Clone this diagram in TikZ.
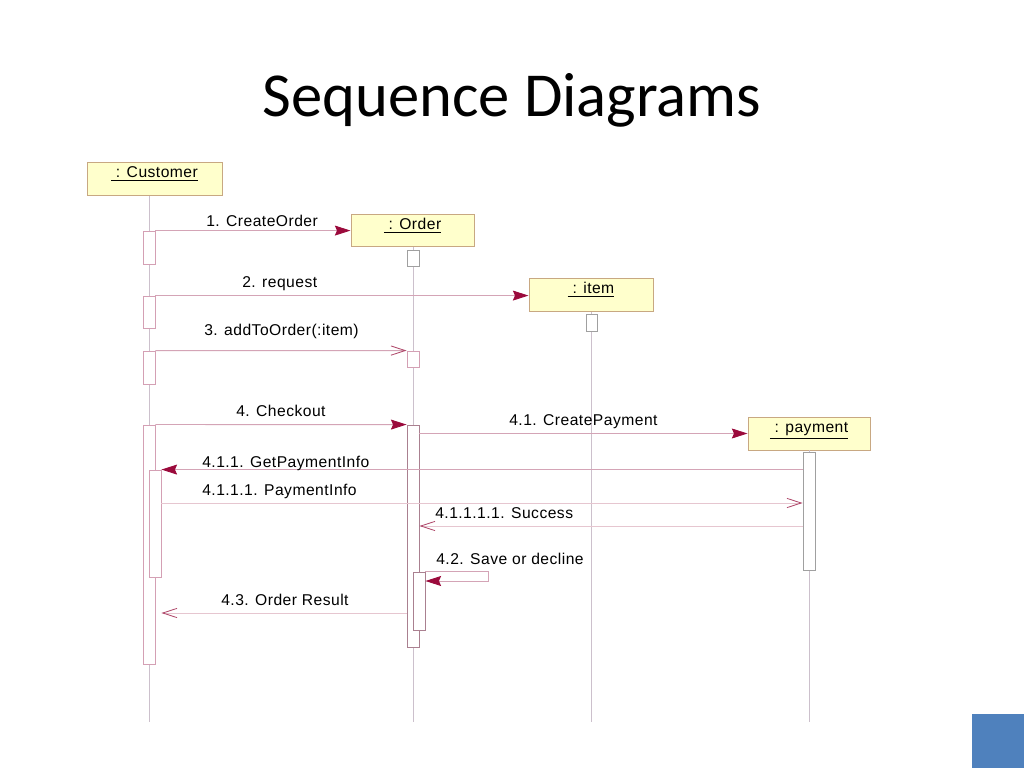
\documentclass[tikz,border=0pt]{standalone}
\usepackage{fontspec}
\setmainfont{Liberation Sans}
\newfontfamily\titlefont{Carlito}
\newfontfamily\lblfont[LetterSpace=3]{Liberation Sans}
\usetikzlibrary{arrows.meta}
\definecolor{objfill}{HTML}{FFFFCC}
\definecolor{objdraw}{HTML}{C8A882}
\definecolor{msgline}{HTML}{D4A4B6}
\definecolor{retline}{HTML}{E6C6D0}
\definecolor{tipfill}{HTML}{9B0A3C}
\definecolor{tipopen}{HTML}{B04A6C}
\definecolor{lifeline}{HTML}{CCC0CC}
\definecolor{actpink}{HTML}{D4A0B4}
\definecolor{actgrey}{HTML}{A0A0A0}
\definecolor{slideblue}{HTML}{4F81BD}
\begin{document}
\begin{tikzpicture}[x=0.703125pt,y=-0.703125pt,
  obj/.style={draw=objdraw, fill=objfill, line width=0.7pt, inner xsep=0pt, inner ysep=0pt,
    font=\lblfont\fontsize{11}{13}\selectfont, text height=11pt},
  act/.style={draw=actpink, fill=white, line width=0.6pt, inner sep=0pt, minimum width=8.44pt},
  actg/.style={act, draw=actgrey},
  life/.style={draw=lifeline, line width=0.6pt},
  msg/.style={draw=msgline, line width=0.6pt, -{Stealth[length=11pt,width=7pt,inset=1.5pt,color=tipfill,fill=tipfill]}},
  ret/.style={draw=retline, line width=0.6pt, -{Straight Barb[length=10pt,width=6.5pt,color=tipopen,line width=0.6pt]}},
  ret2/.style={draw=msgline, line width=0.6pt, -{Straight Barb[length=10pt,width=6.5pt,color=tipopen,line width=0.6pt]}},
  lbl/.style={font=\lblfont\fontsize{11}{13}\selectfont, inner sep=0pt, anchor=base west}
]
\useasboundingbox (0,0) rectangle (1024,768);
\fill[white] (0,0) rectangle (1024,768);

% title
\node[font=\titlefont\fontsize{44}{52}\selectfont, inner sep=0pt] (title) at (512,100) {Sequence Diagrams};

% objects
\node[obj, minimum width=94.92pt, text depth=12.9pt] (cust) at (154.5,179) {\underline{\ : Customer}};
\node[obj, minimum width=86.48pt, text depth=12.2pt] (order) at (412.5,230.5) {\underline{\ : Order}};
\node[obj, minimum width=87.19pt, text depth=12.9pt] (item) at (591,295) {\underline{\ : item}};
\node[obj, minimum width=85.78pt, text depth=12.2pt] (pay) at (809,433.5) {\underline{\ : payment}};

% lifeline ends
\coordinate (endc) at (149,722);
\coordinate (endo) at (413,722);
\coordinate (endi) at (591,722);
\coordinate (endp) at (809,722);
\draw[life] (cust.south -| endc) -- (endc);
\draw[life] (order.south -| endo) -- (endo);
\draw[life] (item.south -| endi) -- (endi);
\draw[life] (pay.south -| endp) -- (endp);

% activations
\node[act, minimum height=23.2pt] (c1) at (149,247.5) {};
\node[act, minimum height=22.5pt] (c2) at (149,312) {};
\node[act, minimum height=23.2pt] (c3) at (149,367.5) {};
\node[act, minimum height=168.05pt] (c4) at (149,544.5) {};
\node[act, minimum height=75.23pt] (c5) at (155,523.5) {};
\node[actg, minimum height=11.25pt] (o1) at (413,258) {};
\node[act, minimum height=11.25pt] (o2) at (413,359) {};
\node[act, draw=actpink!80!black, minimum height=156.09pt] (o3) at (413,536) {};
\node[act, draw=actpink!80!black, minimum height=40.78pt] (o4) at (419,601) {};
\node[actg, minimum width=7.73pt, minimum height=11.95pt] (i1) at (591.5,322.5) {};
\node[actg, minimum height=82.97pt] (p1) at (809,511) {};

% message levels
\coordinate (y4111) at (0,503);
\coordinate (y41111) at (0,526);
\coordinate (y42) at (0,581);
\coordinate (y43) at (0,613);

% messages
\draw[msg] (c1.north east) -- (c1.north east -| order.west);
\draw[msg] (c2.north east) -- (c2.north east -| item.west);
\draw[ret2] (c3.north east) -- (o2.north west);
\draw[msg] (c4.north east) -- (o3.north west);
\draw[msg] (pay.west -| o3.east) -- (pay.west);
\draw[msg] (c5.north east -| p1.west) -- (c5.north east);
\draw[ret] (c5.east |- y4111) -- (p1.west |- y4111);
\draw[ret] (p1.west |- y41111) -- (o3.east |- y41111);
\draw[msg] (o4.north east) -- ++(63,0) |- (o4.east |- y42);
\draw[ret] (o3.west |- y43) -- (c5.east |- y43);

% labels
\node[lbl] (l1) at (206,227) {1. CreateOrder};
\node[lbl] (l2) at (242,287) {2. request};
\node[lbl] (l3) at (204,336) {3. addToOrder(:item)};
\node[lbl] (l4) at (236,416) {4. Checkout};
\node[lbl] (l41) at (509,425) {4.1. CreatePayment};
\node[lbl] (l411) at (202,467) {4.1.1. GetPaymentInfo};
\node[lbl] (l4111) at (202,495) {4.1.1.1. PaymentInfo};
\node[lbl] (l41111) at (435,518) {4.1.1.1.1. Success};
\node[lbl] (l42) at (436,564) {4.2. Save or decline};
\node[lbl] (l43) at (221,605) {4.3. Order Result};

% slide corner square
\fill[slideblue] (972,714) rectangle (1024,768);
\end{tikzpicture}
\end{document}
